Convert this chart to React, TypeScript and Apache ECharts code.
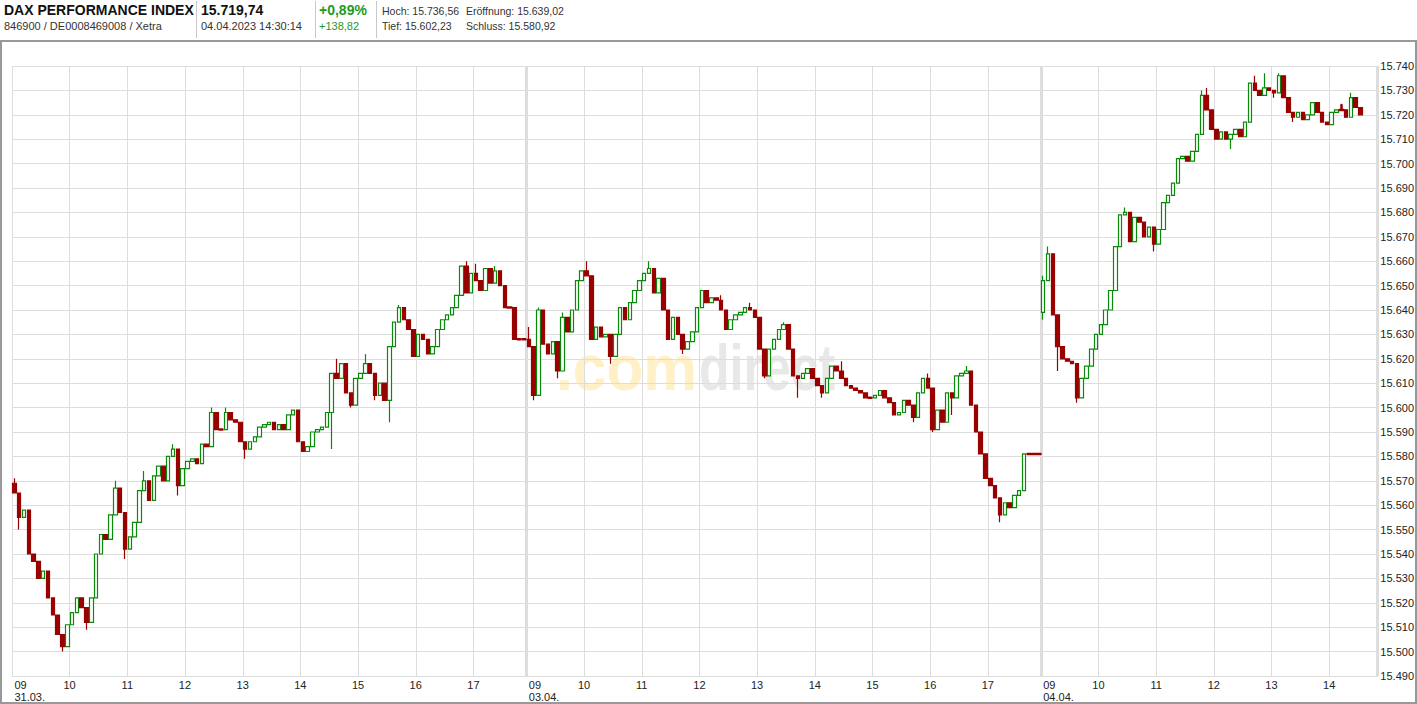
import React, { useEffect, useRef } from 'react';
import * as echarts from 'echarts';

// ---- data (5-minute candles, 09:00 – 17:50 per trading day) ----
const dayLabels = ['31.03.', '03.04.', '04.04.'];
const slotsPerDay = 107;
const totalSlots = 284;
const dayOpen = [15569, 15628, 15639];

const day1Close = [
  15565, 15555, 15558, 15540, 15537, 15530, 15533, 15522, 15515, 15507, 15502, 15511,
  15516, 15522, 15518, 15512, 15522, 15540, 15548, 15546, 15556, 15567, 15557, 15542,
  15547, 15553, 15566, 15570, 15562, 15572, 15576, 15570, 15580, 15583, 15568, 15575,
  15578, 15579, 15577, 15585, 15584, 15598, 15591, 15591, 15598, 15595, 15594, 15586,
  15583, 15586, 15588, 15592, 15593, 15594, 15591, 15593, 15591, 15597, 15599, 15586,
  15582, 15584, 15590, 15591, 15592, 15598, 15614, 15612, 15618, 15606, 15601, 15612,
  15614, 15618, 15614, 15605, 15610, 15603, 15625, 15635, 15641, 15636, 15632, 15621,
  15630, 15628, 15622, 15625, 15632, 15636, 15638, 15641, 15646, 15658, 15647, 15655,
  15652, 15648, 15657, 15651, 15656, 15650, 15641, 15641, 15628, 15628, 15628,
];
const day2Close = [
  15625, 15605, 15640, 15626, 15622, 15627, 15615, 15637, 15631, 15640, 15652, 15656,
  15654, 15628, 15633, 15629, 15630, 15621, 15630, 15641, 15636, 15643, 15648, 15652,
  15655, 15657, 15647, 15653, 15640, 15628, 15637, 15630, 15624, 15627, 15631, 15641,
  15648, 15643, 15645, 15644, 15640, 15632, 15636, 15638, 15639, 15641, 15640, 15637,
  15624, 15613, 15624, 15628, 15632, 15634, 15624, 15613, 15612, 15614, 15616, 15612,
  15609, 15606, 15612, 15617, 15615, 15612, 15609, 15608, 15607, 15606, 15604, 15604,
  15605, 15607, 15604, 15602, 15597, 15598, 15603, 15601, 15596, 15606, 15612, 15608,
  15591, 15599, 15594, 15606, 15604, 15613, 15614, 15615, 15601, 15590, 15581, 15571,
  15568, 15563, 15556, 15561, 15559, 15564, 15566, 15581, 15581, 15581, 15581,
];
const day3Close = [
  15652, 15663, 15638, 15625, 15620, 15619, 15618, 15604, 15612, 15617, 15624, 15630,
  15634, 15640, 15648, 15666, 15679, 15680, 15668, 15678, 15676, 15670, 15674, 15667,
  15673, 15684, 15687, 15692, 15702, 15703, 15701, 15705, 15712, 15728, 15722, 15714,
  15710, 15713, 15710, 15712, 15714, 15711, 15717, 15733, 15730, 15728, 15731, 15730,
  15729, 15736, 15727, 15721, 15719, 15721, 15718, 15720, 15725, 15721, 15717, 15716,
  15721, 15722, 15722, 15719, 15727, 15723, 15720,
];
// wick extremes (by candle index)
const wickHigh: Record<number, number> = {
  0: 15571, 21: 15570, 27: 15574, 33: 15585, 41: 15600, 44: 15600, 67: 15620, 73: 15622,
  80: 15642, 94: 15660, 96: 15659, 100: 15658, 107: 15633, 109: 15641, 114: 15639,
  119: 15660, 132: 15660, 144: 15647, 147: 15646, 153: 15643, 160: 15635, 172: 15619,
  190: 15614, 198: 15617, 214: 15654, 215: 15666, 231: 15682, 247: 15730, 248: 15731,
  258: 15736, 260: 15737, 263: 15737, 276: 15724, 278: 15729,
};
const wickLow: Record<number, number> = {
  1: 15550, 10: 15500, 15: 15509, 23: 15538, 34: 15564, 48: 15579, 66: 15583, 70: 15600,
  75: 15603, 78: 15594, 108: 15603, 113: 15612, 124: 15618, 139: 15622, 156: 15612,
  163: 15604, 168: 15604, 187: 15594, 191: 15590, 195: 15597, 205: 15553, 214: 15636,
  217: 15615, 221: 15602, 237: 15664, 253: 15706, 262: 15727, 266: 15717,
};

const yMin = 15490;
const yMax = 15740;
const yStep = 10;

const headerTitle = 'DAX PERFORMANCE INDEX';
const headerSub = '846900 / DE0008469008 / Xetra';
const headerPrice = '15.719,74';
const headerTime = '04.04.2023 14:30:14';
const headerPct = '+0,89%';
const headerAbs = '+138,82';
const headerStats = [
  ['Hoch: 15.736,56', 'Eröffnung: 15.639,02'],
  ['Tief: 15.602,23', 'Schluss: 15.580,92'],
];
const watermarkParts = ['.com', 'direct'];

// ---- styling ----
const FONT = '"Liberation Sans", Arial, sans-serif';
const UP = '#0a8a0a';
const DOWN = '#990000';
const GRID = '#dddddd';
const TXT = '#222222';

const pad2 = (n: number) => (n < 10 ? '0' + n : String(n));
const thousands = (v: number) => String(Math.round(v)).replace(/\B(?=(\d{3})+(?!\d))/g, '.');

function buildOption() {
  const closes = [...day1Close, ...day2Close, ...day3Close];
  const categories: string[] = [];
  for (let i = 0; i < totalSlots; i++) {
    const day = Math.floor(i / slotsPerDay);
    const local = i % slotsPerDay;
    const h = 9 + Math.floor(local / 12);
    const m = (local % 12) * 5;
    categories.push(`${dayLabels[Math.min(day, 2)]} ${pad2(h)}:${pad2(m)}`);
  }
  const candles = closes.map((c, i) => {
    const day = Math.floor(i / slotsPerDay);
    const local = i % slotsPerDay;
    const o = local === 0 ? dayOpen[day] : closes[i - 1];
    const lo = Math.min(o, c, wickLow[i] ?? Infinity);
    const hi = Math.max(o, c, wickHigh[i] ?? -Infinity);
    const item: any = { value: [o, c, lo, hi] };
    if (o === c) {
      item.itemStyle = {
        color: DOWN, color0: DOWN, borderColor: DOWN, borderColor0: DOWN,
        borderWidth: 2.5, borderJoin: 'round', borderCap: 'round',
      };
    }
    return item;
  });

  const isHourLine = (i: number) => {
    const local = i % slotsPerDay;
    return local % 12 === 0 && local <= 96;
  };

  const graphic: any[] = [
    // frame
    { type: 'rect', z: -20, shape: { x: 1, y: 41, width: 1415, height: 662 }, style: { fill: '#fff', stroke: '#999', lineWidth: 2 } },
    // watermark
    {
      type: 'text', x: 556, y: 367, z: -10, scaleX: 0.93,
      style: { text: watermarkParts[0], verticalAlign: 'middle', fill: '#fff0c8', font: `bold 65px ${FONT}` },
    },
    {
      type: 'text', x: 699, y: 367, z: -10, scaleX: 0.77,
      style: { text: watermarkParts[1], verticalAlign: 'middle', fill: '#e8e8e8', font: `bold 65px ${FONT}` },
    },
    // header
    { type: 'text', x: 4, y: 10, style: { text: headerTitle, font: `bold 14px ${FONT}`, fill: '#111', verticalAlign: 'middle' } },
    { type: 'text', x: 4, y: 26, style: { text: headerSub, font: `11px ${FONT}`, fill: '#333', verticalAlign: 'middle' } },
    { type: 'text', x: 201, y: 10, style: { text: headerPrice, font: `bold 14px ${FONT}`, fill: '#111', verticalAlign: 'middle' } },
    { type: 'text', x: 201, y: 26, style: { text: headerTime, font: `11px ${FONT}`, fill: '#333', verticalAlign: 'middle' } },
    { type: 'text', x: 319, y: 10, style: { text: headerPct, font: `bold 14px ${FONT}`, fill: '#1f9a1f', verticalAlign: 'middle' } },
    { type: 'text', x: 319, y: 26, style: { text: headerAbs, font: `11px ${FONT}`, fill: '#1f9a1f', verticalAlign: 'middle' } },
    { type: 'text', x: 382, y: 11, style: { text: headerStats[0][0], font: `10.5px ${FONT}`, fill: '#333', verticalAlign: 'middle' } },
    { type: 'text', x: 466, y: 11, style: { text: headerStats[0][1], font: `10.5px ${FONT}`, fill: '#333', verticalAlign: 'middle' } },
    { type: 'text', x: 382, y: 26, style: { text: headerStats[1][0], font: `10.5px ${FONT}`, fill: '#333', verticalAlign: 'middle' } },
    { type: 'text', x: 466, y: 26, style: { text: headerStats[1][1], font: `10.5px ${FONT}`, fill: '#333', verticalAlign: 'middle' } },
    ...[196.5, 315.5, 376.5].map((x) => ({
      type: 'line', shape: { x1: x, y1: 1, x2: x, y2: 38 }, style: { stroke: '#c8c8c8', lineWidth: 1 },
    })),
  ];

  return {
    animation: false,
    backgroundColor: '#fff',
    textStyle: { fontFamily: FONT },
    graphic,
    grid: { left: 12, right: 39, top: 66, bottom: 28, containLabel: false },
    xAxis: [
      {
        type: 'category',
        data: categories,
        boundaryGap: true,
        position: 'bottom',
        axisLine: { show: true, lineStyle: { color: GRID, width: 1 } },
        axisTick: { show: false },
        axisLabel: {
          interval: (i: number) => isHourLine(i) && i % slotsPerDay !== 0,
          formatter: (_v: string, i: number) => pad2(9 + Math.floor((i % slotsPerDay) / 12)),
          color: TXT, fontSize: 11, fontFamily: FONT, margin: 3, padding: [0, 5, 0, 0],
        },
        splitLine: { show: true, interval: (i: number) => isHourLine(i), lineStyle: { color: GRID, width: 1 } },
      },
      {
        type: 'category',
        data: categories,
        boundaryGap: true,
        position: 'bottom',
        axisLine: { show: false },
        axisTick: { show: false },
        axisLabel: {
          interval: (i: number) => i % slotsPerDay === 0,
          formatter: (_v: string, i: number) => `09\n${dayLabels[Math.floor(i / slotsPerDay)]}`,
          align: 'left', lineHeight: 12, color: TXT, fontSize: 11, fontFamily: FONT, margin: 3,
        },
        splitLine: {
          show: true,
          interval: (i: number) => i % slotsPerDay === 0 && i > 0,
          lineStyle: { color: GRID, width: 3 },
        },
      },
    ],
    yAxis: {
      type: 'value',
      position: 'right',
      min: yMin,
      max: yMax,
      interval: yStep,
      axisLine: { show: true, lineStyle: { color: GRID } },
      axisTick: { show: false },
      axisLabel: { formatter: (v: number) => thousands(v), color: TXT, fontSize: 11, fontFamily: FONT, margin: 3 },
      splitLine: { show: true, lineStyle: { color: GRID, width: 1 } },
    },
    series: [
      {
        type: 'candlestick',
        xAxisIndex: 0,
        yAxisIndex: 0,
        data: candles,
        barWidth: 4,
        itemStyle: { color: '#ffffff', color0: DOWN, borderColor: UP, borderColor0: DOWN, borderWidth: 1.2 },
      },
    ],
  };
}

export default function App() {
  const ref = useRef<HTMLDivElement>(null);
  useEffect(() => {
    if (!ref.current) return;
    const chart = echarts.init(ref.current, null, { renderer: 'svg' });
    chart.setOption(buildOption() as any);
    return () => chart.dispose();
  }, []);
  return (
    <div
      ref={ref}
      style={{ position: 'absolute', left: 0, top: 0, width: 1417, height: 704, background: '#fff' }}
    />
  );
}
